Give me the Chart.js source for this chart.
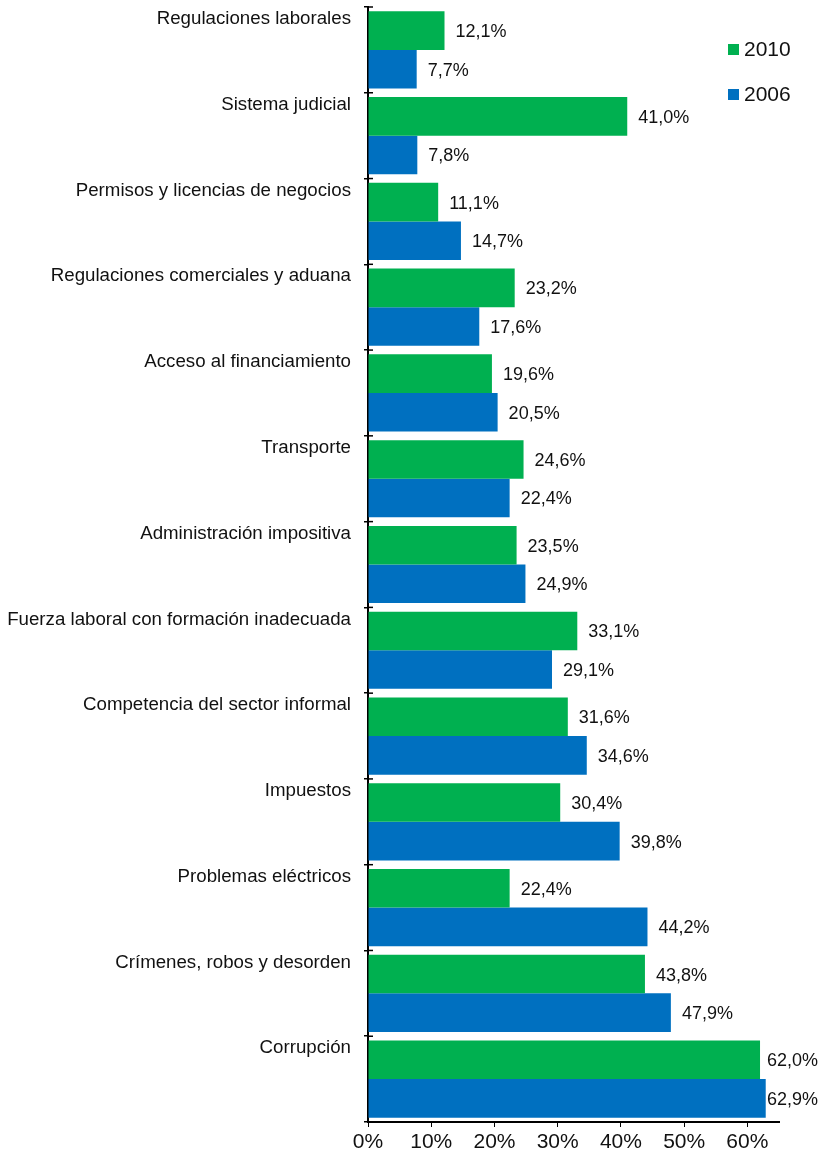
<!DOCTYPE html>
<html>
<head>
<meta charset="utf-8">
<script src="https://cdn.jsdelivr.net/npm/chart.js@4"></script>
<style>
  html, body { margin: 0; padding: 0; background: #fff; }
  #wrap { width: 819px; height: 1157px; position: relative; }
</style>
</head>
<body>
<div id="wrap"><canvas id="chart"></canvas></div>
<script>
/* obstacles chart – 2010 vs 2006 */

const categories = [
  'Regulaciones laborales',
  'Sistema judicial',
  'Permisos y licencias de negocios',
  'Regulaciones comerciales y aduana',
  'Acceso al financiamiento',
  'Transporte',
  'Administración impositiva',
  'Fuerza laboral con formación inadecuada',
  'Competencia del sector informal',
  'Impuestos',
  'Problemas eléctricos',
  'Crímenes, robos y desorden',
  'Corrupción',
];
const values2010 = [12.1, 41.0, 11.1, 23.2, 19.6, 24.6, 23.5, 33.1, 31.6, 30.4, 22.4, 43.8, 62.0];
const values2006 = [7.7, 7.8, 14.7, 17.6, 20.5, 22.4, 24.9, 29.1, 34.6, 39.8, 44.2, 47.9, 62.9];
const xTicks = [0, 10, 20, 30, 40, 50, 60];

const GREEN = '#00b050';
const BLUE  = '#0070c0';
const FONT  = '"Liberation Sans", Arial, Helvetica, sans-serif';

const fmtPct = v => v.toFixed(1).replace('.', ',') + '%';

/* category labels sit at the top of each band, right-aligned to the axis;
   band boundary ticks cross the axis line */
const catLabels = {
  id: 'catLabels',
  afterDraw(chart) {
    const { ctx } = chart;
    const y = chart.scales.y;
    const band = (y.bottom - y.top) / categories.length;
    ctx.save();
    ctx.strokeStyle = '#000';
    ctx.lineWidth = 1.5;
    for (let i = 0; i <= categories.length; i++) {
      const yy = y.top + i * band;
      ctx.beginPath();
      ctx.moveTo(y.right, yy);
      ctx.lineTo(y.right + 5, yy);
      ctx.stroke();
    }
    ctx.font = '18.7px ' + FONT;
    ctx.fillStyle = '#111';
    ctx.textAlign = 'right';
    ctx.textBaseline = 'middle';
    categories.forEach((c, i) => {
      const yc = y.getPixelForValue(i) - band / 2 + 12;
      ctx.fillText(c, y.right - 17, yc);
    });
    ctx.restore();
  }
};

/* value labels to the right of each bar */
const valueLabels = {
  id: 'valueLabels',
  afterDatasetsDraw(chart) {
    const { ctx } = chart;
    ctx.save();
    ctx.font = '18px ' + FONT;
    ctx.fillStyle = '#111';
    ctx.textAlign = 'left';
    ctx.textBaseline = 'middle';
    chart.data.datasets.forEach((ds, di) => {
      chart.getDatasetMeta(di).data.forEach((bar, i) => {
        const txt = fmtPct(ds.data[i]);
        const w = ctx.measureText(txt).width;
        const x = Math.min(bar.x + 11, chart.width - w - 1);
        ctx.fillText(txt, x, bar.y + 1.5);
      });
    });
    ctx.restore();
  }
};

/* small legend in top-right corner */
const cornerLegend = {
  id: 'cornerLegend',
  afterDraw(chart) {
    const { ctx } = chart;
    ctx.save();
    ctx.font = '21px ' + FONT;
    ctx.textAlign = 'left';
    ctx.textBaseline = 'middle';
    chart.data.datasets.forEach((ds, i) => {
      const yc = 49 + i * 45;
      ctx.fillStyle = ds.backgroundColor;
      ctx.fillRect(728, yc - 5, 11, 11);
      ctx.fillStyle = '#111';
      ctx.fillText(ds.label, 744, yc + 1);
    });
    ctx.restore();
  }
};

new Chart(document.getElementById('chart'), {
  type: 'bar',
  data: {
    labels: categories,
    datasets: [
      { label: '2010', data: values2010, backgroundColor: GREEN, categoryPercentage: 0.9, barPercentage: 1.0 },
      { label: '2006', data: values2006, backgroundColor: BLUE,  categoryPercentage: 0.9, barPercentage: 1.0 },
    ],
  },
  options: {
    indexAxis: 'y',
    responsive: true,
    maintainAspectRatio: false,
    animation: false,
    layout: { padding: { top: 7, right: 40, bottom: 0, left: 0 } },
    plugins: {
      legend: { display: false },
      tooltip: { enabled: false },
    },
    scales: {
      x: {
        min: 0, max: 65,
        afterBuildTicks: s => { s.ticks = xTicks.map(v => ({ value: v })); },
        afterFit: s => { s.height = 35; },
        border: { display: true, color: '#000', width: 2 },
        grid: { drawOnChartArea: false, drawTicks: true, tickLength: 5, color: '#000', lineWidth: 1 },
        ticks: {
          color: '#111', padding: 3,
          font: { family: FONT, size: 21 },
          callback: v => v + '%',
        },
      },
      y: {
        afterFit: s => { s.width = 368; },
        border: { display: true, color: '#000', width: 2 },
        grid: { offset: true, drawOnChartArea: false, drawTicks: true, tickLength: 4, color: '#000', lineWidth: 1.5 },
        ticks: { display: false },
      },
    },
  },
  plugins: [catLabels, valueLabels, cornerLegend],
});
</script>
</body>
</html>
